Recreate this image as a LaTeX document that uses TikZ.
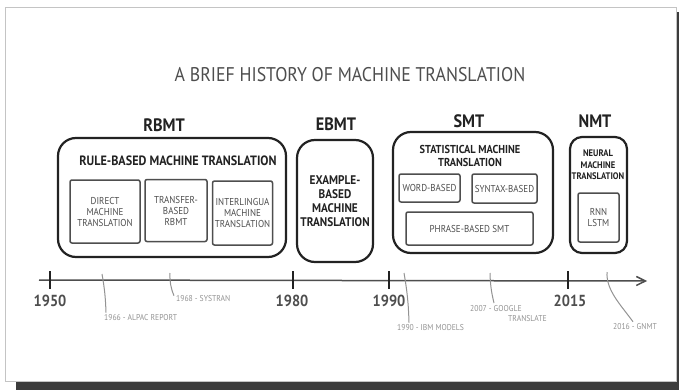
\documentclass[tikz,border=0pt]{standalone}
\usepackage{fontspec}
\setmainfont[FakeStretch=0.9]{PT Sans}
\usetikzlibrary{arrows.meta,positioning}
\definecolor{SketchInk}{HTML}{222222}
\definecolor{SketchGrey}{HTML}{4E4E4E}
\definecolor{SketchPale}{HTML}{939393}
\definecolor{PaperShadow}{HTML}{3C3C3C}
\definecolor{PaperEdge}{HTML}{C4C4C4}

\begin{document}
\begin{tikzpicture}[
  x=1pt, y=-1pt,
  era/.style={text=SketchInk, font=\fontsize{18}{20}\selectfont\bfseries, inner sep=0pt},
  group/.style={draw=SketchInk, rounded corners=18pt, line width=2.2pt, align=center, inner sep=0pt},
  method/.style={draw=SketchInk!80, rounded corners=2pt, line width=1.5pt, align=center, inner sep=0pt,
    text=SketchGrey, font=\fontsize{10}{11}\selectfont},
  heading/.style={text=SketchInk, font=\fontsize{13.5}{14}\selectfont\bfseries, align=center, inner sep=0pt},
  year/.style={text=SketchGrey, font=\fontsize{16}{17}\selectfont\bfseries, inner sep=0pt},
  event/.style={text=SketchPale, font=\fontsize{8.5}{10}\selectfont, align=left, inner sep=0pt},
  tick/.style={line width=1.8pt, draw=SketchInk},
  lead/.style={line width=1pt, draw=SketchPale},
  axis/.style={-{Straight Barb[length=9pt, width=9pt]}, line width=1.5pt, draw=SketchInk!80}
]
\useasboundingbox (0,0) rectangle (679,390);
\fill[PaperShadow] (16,12) rectangle (679,390);
\fill[white, draw=PaperEdge, line width=0.6pt] (5,7) rectangle (676,381);

\node[text=SketchGrey, font=\fontsize{19.8}{22}\selectfont] (title) at (350,75)
  {A BRIEF HISTORY OF MACHINE TRANSLATION};

% eras
\node[group, minimum width=228pt, minimum height=119pt] (rbmt) at (172,197.5) {};
\node[group, minimum width=76pt, minimum height=122pt, text=SketchInk,
  font=\fontsize{12.5}{14}\selectfont\bfseries] (ebmt) at (335,201)
  {EXAMPLE-\\BASED\\MACHINE\\TRANSLATION};
\node[group, minimum width=160pt, minimum height=121pt] (smt) at (473,192.5) {};
\node[group, minimum width=57pt, minimum height=116pt, rounded corners=12pt] (nmt) at (598.5,195) {};

\node[era] (rbmtlabel) at (164,125) {RBMT};
\node[era] (ebmtlabel) at (336,124) {EBMT};
\node[era] (smtlabel) at (469,121) {SMT};
\node[era] (nmtlabel) at (595,121) {NMT};

\node[heading] (rbmthead) at (178,161) {RULE-BASED MACHINE TRANSLATION};
\node[method, minimum width=70pt, minimum height=63pt] (direct) at (105,211.5) {DIRECT\\MACHINE\\TRANSLATION};
\node[method, minimum width=62pt, minimum height=62pt] (transfer) at (176,210.5) {TRANSFER-\\BASED\\RBMT};
\node[method, minimum width=60pt, minimum height=64pt] (interlingua) at (242.5,213) {INTERLINGUA\\MACHINE\\TRANSLATION};

\node[heading, font=\fontsize{11.5}{13}\selectfont\bfseries] (smthead) at (470,156) {STATISTICAL MACHINE\\TRANSLATION};
\node[method, minimum width=61pt, minimum height=28pt] (word) at (429.5,188) {WORD-BASED};
\node[method, minimum width=65pt, minimum height=29pt] (syntax) at (504.5,188.5) {SYNTAX-BASED};
\node[method, minimum width=127pt, minimum height=33pt] (phrase) at (469.5,228.5) {PHRASE-BASED SMT};

\node[heading, font=\fontsize{9.5}{11.5}\selectfont\bfseries] (nmthead) at (598,165) {NEURAL\\MACHINE\\TRANSLATION};
\node[method, minimum width=41pt, minimum height=49pt] (rnn) at (598.5,217.5) {RNN\\LSTM};

% timeline
\coordinate (start) at (39,280);
\coordinate (finish) at (647,281);
\draw[axis] (start) -- (finish);
\foreach \yr/\px/\lx in {1950/50/50, 1980/293/292, 1990/389/389, 2015/568/570} {
  \draw[tick] (\px,271) -- (\px,289);
  \node[year] (y\yr) at (\lx,301) {\yr};
}

% events
\coordinate (m1966) at (102,274);
\coordinate (m1968) at (170,273);
\coordinate (m1990) at (404,273);
\coordinate (m2007) at (490,273);
\coordinate (m2016) at (607,272);
\node[event, anchor=west] (e1966) at (104,318) {1966 - ALPAC REPORT};
\node[event, anchor=west] (e1968) at (176,299) {1968 - SYSTRAN};
\node[event, anchor=west] (e1990) at (397,328) {1990 - IBM MODELS};
\node[event, anchor=north west] (e2007) at (470,305) {2007 - GOOGLE\\\hspace*{38pt}TRANSLATE};
\node[event, anchor=west] (e2016) at (613,327) {2016 - GNMT};
\draw[lead] (m1966) to[bend left=4] ([xshift=2pt, yshift=2pt]e1966.north west);
\draw[lead] (m1968) to[bend right=12] ([xshift=-2pt]e1968.north west);
\draw[lead] (m1990) to[bend left=4] ([xshift=12pt, yshift=2pt]e1990.north west);
\draw[lead] (m2007) to[bend right=6] ([xshift=24pt, yshift=2pt]e2007.north west);
\draw[lead] (m2016) .. controls (606,290) and (620,304) .. ([xshift=20pt, yshift=2pt]e2016.north west);
\end{tikzpicture}
\end{document}
